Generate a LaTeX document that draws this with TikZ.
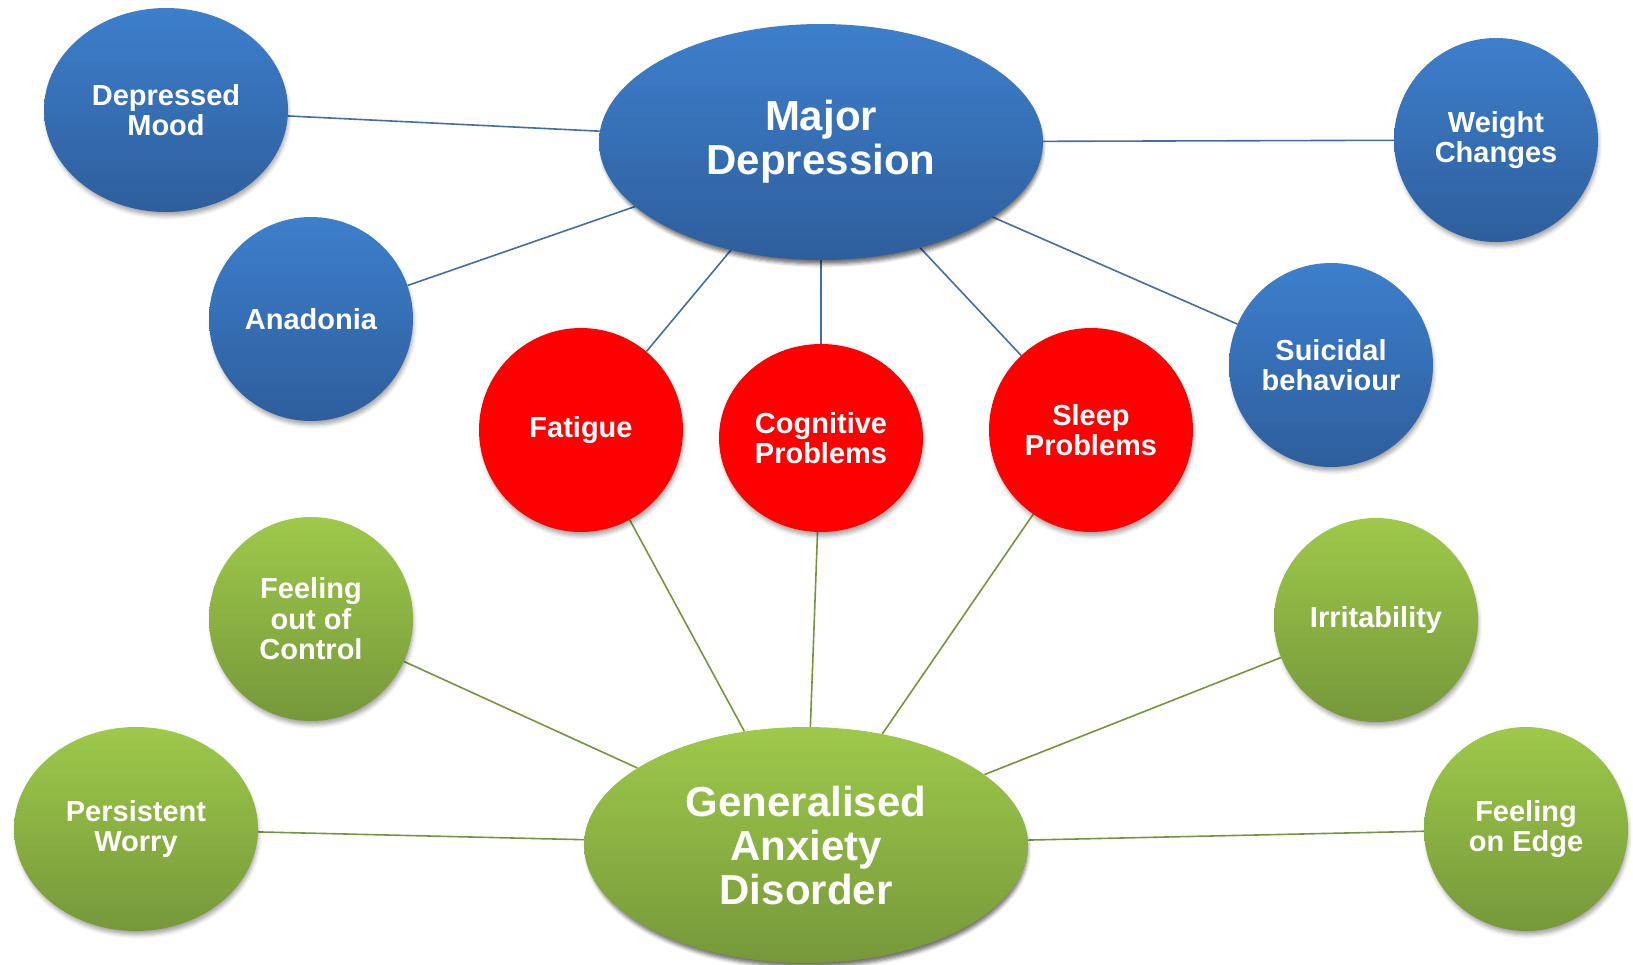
\documentclass[tikz,border=0pt]{standalone}
\usepackage{fontspec}
\setmainfont{Liberation Sans}
\usetikzlibrary{shapes.geometric,shadows.blur,backgrounds}

\definecolor{bluetop}{RGB}{61,127,204}
\definecolor{bluebot}{RGB}{46,94,156}
\definecolor{greentop}{RGB}{158,201,74}
\definecolor{greenbot}{RGB}{118,152,58}
\definecolor{bluelink}{RGB}{66,110,166}
\definecolor{greenlink}{RGB}{118,148,60}
\definecolor{redfill}{RGB}{255,0,0}

\tikzset{
  bubble/.style={ellipse, inner sep=0pt, text=white, align=center,
    font=\bfseries\fontsize{29}{30.5}\selectfont,
    blur shadow={shadow xshift=1.5pt, shadow yshift=-5pt,
      shadow blur radius=4pt, shadow opacity=35, shadow scale=0.99}},
  bigbubble/.style={bubble, minimum width=444pt, minimum height=236pt,
    font=\bfseries\fontsize{42}{44}\selectfont},
  bluebub/.style={bubble, top color=bluetop, bottom color=bluebot},
  greenbub/.style={bubble, top color=greentop, bottom color=greenbot},
  redbub/.style={bubble, fill=redfill},
  circ/.style={minimum width=204pt, minimum height=204pt},
  oval/.style={minimum width=244pt, minimum height=204pt},
  bluewire/.style={draw=bluelink, line width=1.6pt},
  greenwire/.style={draw=greenlink, line width=1.6pt},
}

\begin{document}
\begin{tikzpicture}[x=1pt,y=-1pt]
  \useasboundingbox (0,0) rectangle (1633,964);

  % hub nodes
  \node[bluebub, bigbubble] (md) at (821,142) {Major\\Depression};
  \node[greenbub, bigbubble] (gad) at (806,845) {Generalised\\Anxiety\\Disorder};

  % depression symptoms
  \node[bluebub, oval] (mood) at (166,110) {Depressed\\Mood};
  \node[bluebub, circ] (anad) at (311,319) {Anadonia};
  \node[bluebub, circ] (weight) at (1496,140) {Weight\\Changes};
  \node[bluebub, circ] (suic) at (1331,365) {Suicidal\\behaviour};

  % shared symptoms
  \node[redbub, circ] (fatigue) at (581,430) {Fatigue};
  \node[redbub, minimum width=204pt, minimum height=188pt] (cogn) at (821,438) {Cognitive\\Problems};
  \node[redbub, circ] (sleep) at (1091,430) {Sleep\\Problems};

  % anxiety symptoms
  \node[greenbub, circ] (control) at (311,619) {Feeling\\out of\\Control};
  \node[greenbub, circ] (irrit) at (1376,620) {Irritability};
  \node[greenbub, oval] (worry) at (136,829) {Persistent\\Worry};
  \node[greenbub, circ] (edge) at (1526,829) {Feeling\\on Edge};

  % connectors run behind the bubbles
  \begin{pgfonlayer}{background}
    \foreach \n in {mood,anad,weight,suic,fatigue,cogn,sleep}
      \draw[bluewire] (md) -- (\n);
    \foreach \n in {control,irrit,worry,edge,fatigue,cogn,sleep}
      \draw[greenwire] (gad) -- (\n);
  \end{pgfonlayer}
\end{tikzpicture}
\end{document}
